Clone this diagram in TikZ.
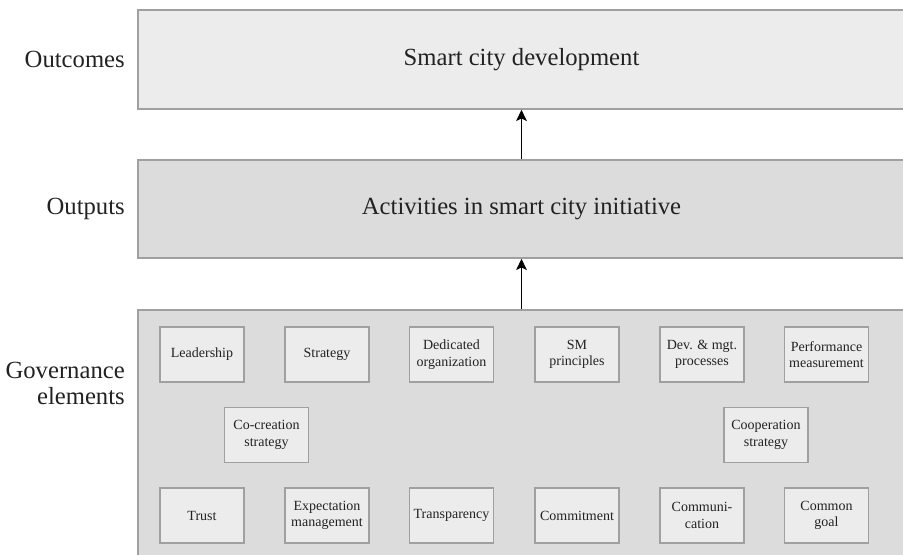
\documentclass[tikz,border=0pt]{standalone}
\usepackage{fontspec}
\setmainfont{Liberation Serif}
\usetikzlibrary{arrows.meta}

\definecolor{boxline}{RGB}{160,160,160}
\definecolor{lightfill}{RGB}{236,236,236}
\definecolor{darkfill}{RGB}{220,220,220}
\definecolor{inktext}{RGB}{34,34,34}

\tikzset{
	layerbox/.style={draw=boxline, line width=1.1pt, inner sep=0pt, text=inktext, font=\fontsize{18.5}{20}\selectfont},
	elembox/.style={draw=boxline, line width=0.8pt, fill=lightfill, minimum width=63pt, minimum height=41.25pt, inner sep=0.75pt, align=center, text=inktext, font=\fontsize{10.5}{12.5}\selectfont},
	sidelabel/.style={anchor=east, inner sep=0.75pt, align=right, text=inktext, font=\fontsize{18.5}{19.5}\selectfont},
	uparrow/.style={-{Stealth[length=8.5pt,width=8pt,inset=2pt]}, line width=1.1pt, black}
}

\begin{document}
\begin{tikzpicture}[x=0.75pt,y=0.75pt,yscale=-1,xscale=1]
	\clip (0,0) rectangle (903,555);
	% layers
	\node (outcomes) [layerbox, fill=lightfill, minimum width=575.25pt, minimum height=74.25pt] at (521.5,59.5) {Smart city development};
	\node (outputs) [layerbox, fill=darkfill, minimum width=575.25pt, minimum height=73.5pt] at (521.5,209) {Activities in smart city initiative};
	\node (governance) [layerbox, fill=darkfill, minimum width=575.25pt, minimum height=191.25pt] at (521.5,437.5) {};
	% side labels
	\node (lbloutcomes) [sidelabel] at (126,59.5) {Outcomes};
	\node (lbloutputs) [sidelabel] at (126,209) {Outputs};
	\node (lblgovernance) [sidelabel] at (126,383) {Governance\\elements};
	% arrows
	\draw [uparrow] (governance.north) -- (outputs.south);
	\draw [uparrow] (outputs.north) -- (outcomes.south);
	% top row
	\node (leadership) [elembox] at (202,354.5) {Leadership};
	\node (strategy) [elembox] at (327,354.5) {Strategy};
	\node (dedicated) [elembox] at (451.5,354.5) {Dedicated\\organization};
	\node (smprinc) [elembox] at (577,354.5) {SM\\principles};
	\node (devmgt) [elembox] at (702,354.5) {Dev. \& mgt.\\processes};
	\node (perform) [elembox] at (826.5,354.5) {Performance\\measurement};
	% middle row
	\node (cocreation) [elembox] at (266.5,435) {Co-creation\\strategy};
	\node (cooperation) [elembox] at (766,435) {Cooperation\\strategy};
	% bottom row
	\node (trust) [elembox] at (202,515.5) {Trust};
	\node (expect) [elembox] at (327,515.5) {Expectation\\management};
	\node (transp) [elembox] at (451.5,515.5) {Transparency};
	\node (commit) [elembox] at (577,515.5) {Commitment};
	\node (communic) [elembox] at (702,515.5) {Communi-\\cation};
	\node (commongoal) [elembox] at (826.5,515.5) {Common\\goal};
\end{tikzpicture}
\end{document}
